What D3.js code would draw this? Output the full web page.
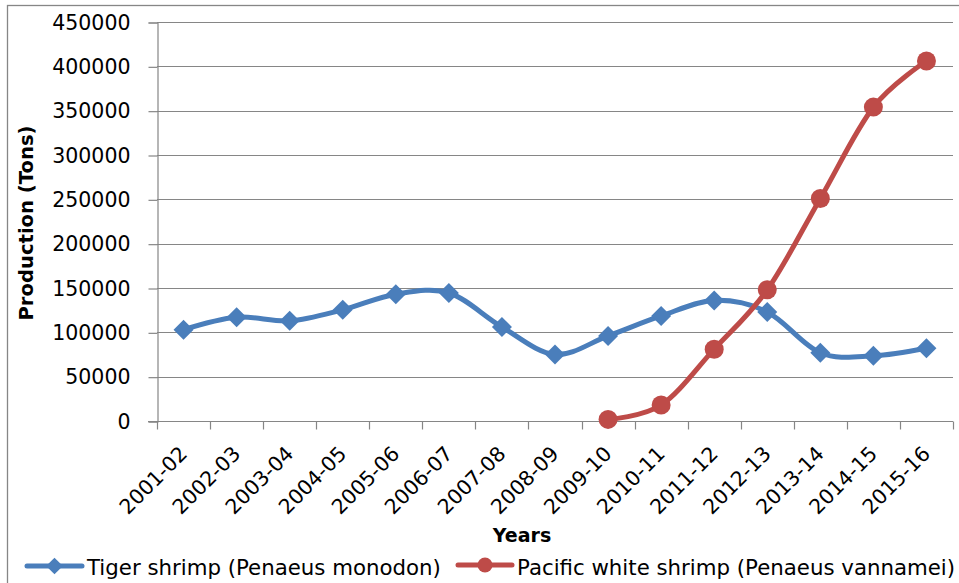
<!DOCTYPE html>
<html>
<head>
<meta charset="utf-8">
<script src="https://cdn.jsdelivr.net/npm/d3@7"></script>
<style>
  body { margin: 0; background: #fff; }
  svg { display: block; font-family: "DejaVu Sans", sans-serif; }
</style>
</head>
<body>
<div id="chart"></div>
<script>
// データ
const years = ["2001-02", "2002-03", "2003-04", "2004-05", "2005-06", "2006-07", "2007-08", "2008-09",
               "2009-10", "2010-11", "2011-12", "2012-13", "2013-14", "2014-15", "2015-16"];
const tigerShrimp = [103000, 117000, 113000, 125500, 143000, 144500, 106000, 75000,
                     96000, 118500, 136000, 123000, 77000, 73500, 82000];
const pacificShrimp = [null, null, null, null, null, null, null, null,
                       1800, 18000, 81000, 148000, 251000, 354000, 406000];
const yTicks = [0, 50000, 100000, 150000, 200000, 250000, 300000, 350000, 400000, 450000];
const seriesNames = ["Tiger shrimp (Penaeus monodon)", "Pacific white shrimp (Penaeus vannamei)"];

const width = 959;
const height = 583;
const plot = { left: 157, right: 953, top: 22, bottom: 421 };
const gray = "#868686";
const blue = "#4A7EBB";
const red = "#BE4B48";

const svg = d3.select("#chart").append("svg")
    .attr("width", width)
    .attr("height", height);

// 外枠（右と下ははみ出している）
svg.append("rect")
    .attr("x", 7.5).attr("y", 5.5)
    .attr("width", 980).attr("height", 620)
    .attr("fill", "none")
    .attr("stroke", gray)
    .attr("stroke-width", 1.3);

// スケール
const xScale = d3.scaleBand()
    .domain(years)
    .range([plot.left, plot.right]);

const yScale = d3.scaleLinear()
    .domain([0, 450000])
    .range([plot.bottom, plot.top]);

const xCenter = d => xScale(d) + xScale.bandwidth() / 2;

// グリッド線
svg.append("g")
    .selectAll("line")
    .data(yTicks.filter(d => d > 0))
    .join("line")
    .attr("x1", plot.left).attr("x2", plot.right)
    .attr("y1", d => Math.round(yScale(d)) + 0.5)
    .attr("y2", d => Math.round(yScale(d)) + 0.5)
    .attr("stroke", gray)
    .attr("stroke-width", 1.2);

// Y軸
const yAxis = svg.append("g")
    .attr("transform", `translate(${plot.left + 0.5}, 0.5)`)
    .call(d3.axisLeft(yScale).tickValues(yTicks).tickSize(9).tickPadding(18).tickFormat(d3.format("d")));
yAxis.select(".domain").attr("stroke", gray).attr("stroke-width", 1.2);
yAxis.selectAll(".tick line").attr("stroke", gray).attr("stroke-width", 1.2);
yAxis.selectAll(".tick text")
    .attr("font-size", 20.5)
    .attr("font-family", "DejaVu Sans")
    .attr("fill", "#000");

// X軸（目盛りは区切り位置）
const xAxisG = svg.append("g")
    .attr("transform", `translate(0, ${plot.bottom + 0.5})`);
xAxisG.append("line")
    .attr("x1", plot.left - 9).attr("x2", plot.right)
    .attr("stroke", gray).attr("stroke-width", 1.2);
const boundaries = years.map(d => xScale(d)).concat([plot.right]);
xAxisG.selectAll(".xtick")
    .data(boundaries)
    .join("line")
    .attr("class", "xtick")
    .attr("x1", d => Math.round(d) + 0.5).attr("x2", d => Math.round(d) + 0.5)
    .attr("y1", 0).attr("y2", 8)
    .attr("stroke", gray).attr("stroke-width", 1.2);

svg.append("g")
    .selectAll("text")
    .data(years)
    .join("text")
    .attr("transform", d => `translate(${xCenter(d) + 5}, 455) rotate(-45)`)
    .attr("text-anchor", "end")
    .attr("font-size", 20.5)
    .attr("fill", "#000")
    .text(d => d);

// 軸タイトル
svg.append("text")
    .attr("transform", `translate(33, 223) rotate(-90)`)
    .attr("text-anchor", "middle")
    .attr("font-size", 19.6)
    .attr("font-weight", "bold")
    .text("Production (Tons)");

svg.append("text")
    .attr("x", 522).attr("y", 542)
    .attr("text-anchor", "middle")
    .attr("font-size", 19)
    .attr("font-weight", "bold")
    .text("Years");

// 線（Excelのスムージングに近い曲線）
const line = d3.line()
    .defined(d => d.v != null)
    .x(d => xCenter(d.year))
    .y(d => yScale(d.v))
    .curve(d3.curveCardinal.tension(0));

const tigerData = years.map((y, i) => ({ year: y, v: tigerShrimp[i] }));
const pacificData = years.map((y, i) => ({ year: y, v: pacificShrimp[i] }));

svg.append("path")
    .datum(tigerData)
    .attr("d", line)
    .attr("fill", "none")
    .attr("stroke", blue)
    .attr("stroke-width", 5)
    .attr("stroke-linejoin", "round");

svg.append("path")
    .datum(pacificData.filter(d => d.v != null))
    .attr("d", line)
    .attr("fill", "none")
    .attr("stroke", red)
    .attr("stroke-width", 5)
    .attr("stroke-linejoin", "round");

// マーカー
const diamond = d3.symbol().type(d3.symbolSquare).size(200);
svg.append("g")
    .selectAll("path")
    .data(tigerData)
    .join("path")
    .attr("d", diamond)
    .attr("transform", d => `translate(${xCenter(d.year)}, ${yScale(d.v)}) rotate(45)`)
    .attr("fill", blue);

svg.append("g")
    .selectAll("circle")
    .data(pacificData.filter(d => d.v != null))
    .join("circle")
    .attr("cx", d => xCenter(d.year))
    .attr("cy", d => yScale(d.v))
    .attr("r", 9.5)
    .attr("fill", red);

// 凡例
const legend = svg.append("g");
const legendItems = [
    { name: seriesNames[0], color: blue, x1: 27, x2: 82, y: 566, tx: 87, shape: "diamond" },
    { name: seriesNames[1], color: red, x1: 458, x2: 512, y: 565, tx: 517, shape: "circle" }
];
legendItems.forEach(item => {
    legend.append("line")
        .attr("x1", item.x1).attr("x2", item.x2)
        .attr("y1", item.y).attr("y2", item.y)
        .attr("stroke", item.color)
        .attr("stroke-width", 5)
        .attr("stroke-linecap", "round");
    if (item.shape === "diamond") {
        legend.append("path")
            .attr("d", d3.symbol().type(d3.symbolSquare).size(140))
            .attr("transform", `translate(${(item.x1 + item.x2) / 2}, ${item.y}) rotate(45)`)
            .attr("fill", item.color);
    } else {
        legend.append("circle")
            .attr("cx", (item.x1 + item.x2) / 2)
            .attr("cy", item.y)
            .attr("r", 7.5)
            .attr("fill", item.color);
    }
    legend.append("text")
        .attr("x", item.tx)
        .attr("y", 575)
        .attr("font-size", 21.3)
        .attr("fill", "#000")
        .text(item.name);
});
</script>
</body>
</html>
